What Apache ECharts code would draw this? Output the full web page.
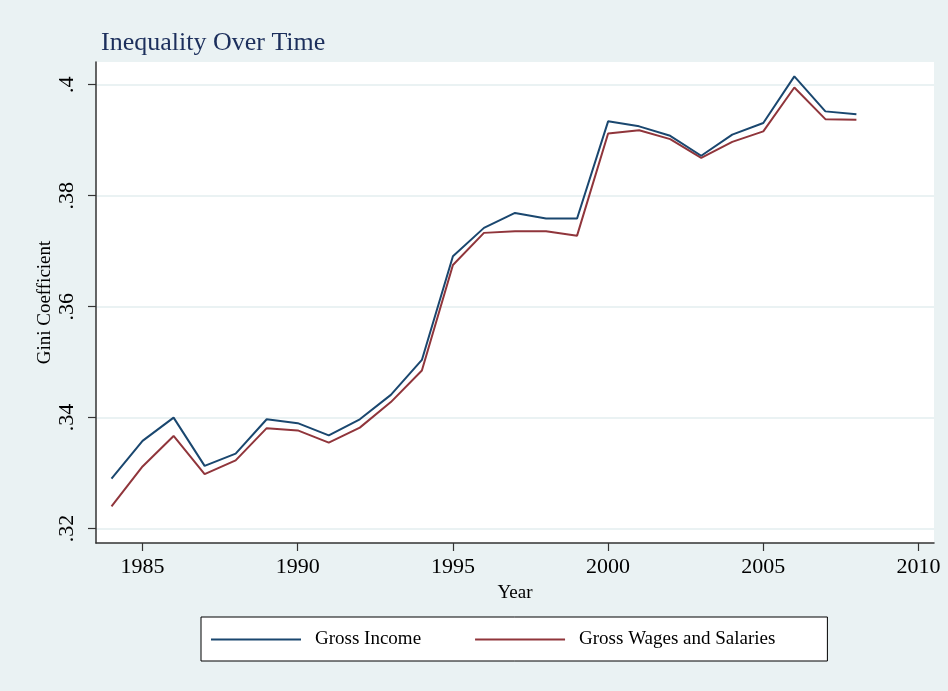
<!DOCTYPE html>
<html>
<head>
<meta charset="utf-8">
<script src="https://cdn.jsdelivr.net/npm/echarts@6/dist/echarts.min.js"></script>
<style>
  html, body { margin: 0; padding: 0; background: #EAF2F3; }
  #chart { width: 948px; height: 691px; }
</style>
</head>
<body>
<div id="chart"></div>
<script>
const years = [1984, 1985, 1986, 1987, 1988, 1989, 1990, 1991, 1992, 1993, 1994, 1995, 1996,
               1997, 1998, 1999, 2000, 2001, 2002, 2003, 2004, 2005, 2006, 2007, 2008];
const grossIncome = [0.3290, 0.3358, 0.3400, 0.3313, 0.3335, 0.3397, 0.3390, 0.3368, 0.3397,
                     0.3441, 0.3504, 0.3691, 0.3742, 0.3769, 0.3759, 0.3759, 0.3934, 0.3925,
                     0.3908, 0.3872, 0.3910, 0.3931, 0.4015, 0.3952, 0.3947];
const grossWages = [0.3240, 0.3312, 0.3367, 0.3298, 0.3323, 0.3381, 0.3377, 0.3355, 0.3382,
                    0.3428, 0.3485, 0.3675, 0.3733, 0.3736, 0.3736, 0.3728, 0.3912, 0.3918,
                    0.3902, 0.3868, 0.3897, 0.3916, 0.3995, 0.3938, 0.3937];
const xTicks = [1985, 1990, 1995, 2000, 2005, 2010];
const yTicks = [0.32, 0.34, 0.36, 0.38, 0.40];
const seriesNames = ['Gross Income', 'Gross Wages and Salaries'];

const serif = '"Liberation Serif", "Times New Roman", serif';
const navy = '#1a476f';
const maroon = '#90353b';

const chart = echarts.init(document.getElementById('chart'), null, { renderer: 'canvas' });

function pairs(vals) { return years.map((y, i) => [y, vals[i]]); }

const option = {
  backgroundColor: '#EAF2F3',
  animation: false,
  title: {
    text: 'Inequality Over Time',
    left: 101,
    top: 30,
    padding: 0,
    textStyle: { fontFamily: serif, fontSize: 26, fontWeight: 'normal', color: '#1c2f5c' }
  },
  grid: {
    left: 96, right: 14, top: 62, bottom: 148,
    show: true, backgroundColor: '#ffffff', borderWidth: 0
  },
  legend: {
    data: seriesNames,
    left: 201,
    top: 617,
    orient: 'horizontal',
    backgroundColor: '#ffffff',
    borderColor: '#000000',
    borderWidth: 1,
    padding: [13, 52, 12, 10],
    itemGap: 54,
    itemWidth: 90,
    itemHeight: 2,
    icon: 'rect',
    textStyle: { fontFamily: serif, fontSize: 19, color: '#000', padding: [0, 0, 0, 9] }
  },
  xAxis: {
    type: 'value',
    min: 1983.5,
    max: 2010.5,
    name: 'Year',
    nameLocation: 'middle',
    nameGap: 41,
    nameMoveOverlap: false,
    nameTextStyle: { fontFamily: serif, fontSize: 19, color: '#000' },
    axisLine: { show: true, onZero: false, lineStyle: { color: '#333', width: 1.5 } },
    axisTick: { show: true, customValues: xTicks, length: 8, lineStyle: { color: '#333', width: 1.2 } },
    axisLabel: {
      customValues: xTicks, margin: 13, fontFamily: serif, fontSize: 22, color: '#000',
      formatter: v => String(v)
    },
    splitLine: { show: false }
  },
  yAxis: {
    type: 'value',
    min: 0.3174,
    max: 0.4041,
    name: 'Gini Coefficient',
    nameLocation: 'middle',
    nameGap: 41,
    nameMoveOverlap: false,
    nameRotate: 90,
    nameTextStyle: { fontFamily: serif, fontSize: 19, color: '#000' },
    axisLine: { show: true, onZero: false, lineStyle: { color: '#333', width: 1.5 } },
    axisTick: { show: true, customValues: yTicks, length: 8, lineStyle: { color: '#333', width: 1.2 } },
    axisLabel: {
      customValues: yTicks, margin: 18, rotate: 90,
      fontFamily: serif, fontSize: 22, color: '#000',
      formatter: v => Number(v.toFixed(2)).toString().replace(/^0/, '')
    },
    splitLine: { show: true, lineStyle: { color: '#EAF2F3', width: 2 } }
  },
  series: [
    {
      name: seriesNames[0], type: 'line', data: pairs(grossIncome),
      symbol: 'none', lineStyle: { color: navy, width: 2 }, itemStyle: { color: navy }, z: 3
    },
    {
      name: seriesNames[1], type: 'line', data: pairs(grossWages),
      symbol: 'none', lineStyle: { color: maroon, width: 2 }, itemStyle: { color: maroon }, z: 2
    }
  ]
};
chart.setOption(option);
</script>
</body>
</html>
